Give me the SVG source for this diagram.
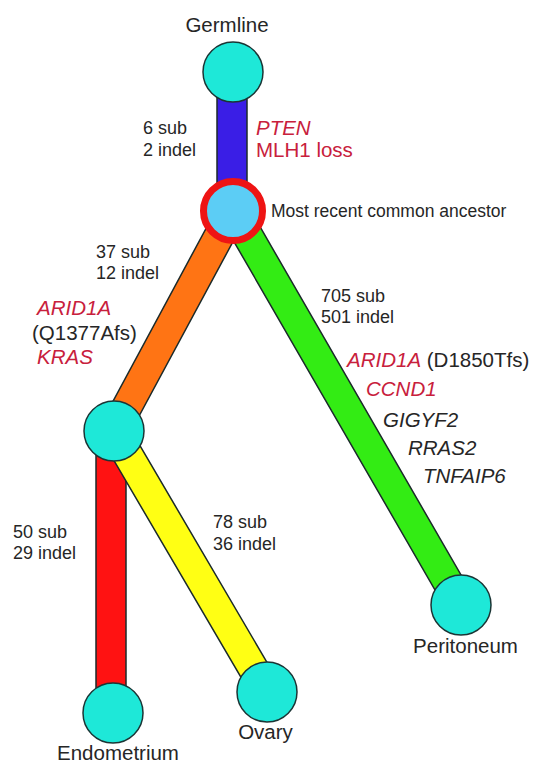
<svg xmlns="http://www.w3.org/2000/svg" width="535" height="765" viewBox="0 0 535 765">
<style>
  .bar { stroke: #1b2a2a; stroke-width: 1.5; stroke-linejoin: miter; }
  .node { fill: #1ee8d8; stroke: #1b3535; stroke-width: 1.5; }
  text { font-family: "Liberation Sans", Arial, sans-serif; fill: #262626; }
  .lbl { font-size: 20.5px; }
  .cnt { font-size: 18px; }
  .gene { font-size: 20.5px; }
  .red { fill: #c8203c; }
  .it { font-style: italic; }
</style>
<rect width="535" height="765" fill="#ffffff"/>
<g id="connectors">
  <rect class="bar" x="96" y="431" width="30" height="282" fill="#ff1212"/>
  <polygon class="bar" points="126.9,423.4 279.9,684.4 254.1,699.6 101.1,438.6" fill="#ffff14"/>
  <polygon class="bar" points="246.2,217.1 127.2,438.1 100.8,423.9 219.8,202.9" fill="#ff7414"/>
  <polygon class="bar" points="246,202.5 474,597.5 448,612.5 220,217.5" fill="#33ec14"/>
  <rect class="bar" x="217" y="72" width="30" height="138" fill="#3a1ee6"/>
</g>
<g id="germline">
  <circle class="node" cx="233" cy="72" r="30"/>
  <text class="lbl" x="227" y="32" text-anchor="middle">Germline</text>
</g>
<g id="mrca">
  <circle cx="233" cy="211" r="29.5" fill="#5ccdf5" stroke="#ee1414" stroke-width="7"/>
  <text x="271" y="217" font-size="17.5">Most recent common ancestor</text>
</g>
<g id="branch">
  <circle class="node" cx="114" cy="431" r="30"/>
</g>
<g id="endometrium">
  <circle class="node" cx="113" cy="713" r="30"/>
  <text class="lbl" x="118" y="760" text-anchor="middle">Endometrium</text>
</g>
<g id="ovary">
  <circle class="node" cx="267" cy="692" r="30"/>
  <text class="lbl" x="265.5" y="739" text-anchor="middle">Ovary</text>
</g>
<g id="peritoneum">
  <circle class="node" cx="461" cy="605" r="30"/>
  <text class="lbl" x="465.5" y="653" text-anchor="middle">Peritoneum</text>
</g>
<g id="annotations">
  <text class="cnt" x="143" y="134">6 sub</text>
  <text class="cnt" x="143" y="156">2 indel</text>
  <text class="gene red it" x="256" y="135">PTEN</text>
  <text class="gene red" x="256" y="157">MLH1 loss</text>

  <text class="cnt" x="96" y="258">37 sub</text>
  <text class="cnt" x="96" y="279">12 indel</text>
  <text class="gene red it" x="37" y="315">ARID1A</text>
  <text class="gene" x="32" y="340">(Q1377Afs)</text>
  <text class="gene red it" x="37" y="364">KRAS</text>

  <text class="cnt" x="321" y="302">705 sub</text>
  <text class="cnt" x="321" y="323">501 indel</text>
  <text class="gene" x="347" y="367"><tspan class="red it">ARID1A</tspan> (D1850Tfs)</text>
  <text class="gene red it" x="366" y="396">CCND1</text>
  <text class="gene it" x="383" y="427">GIGYF2</text>
  <text class="gene it" x="408" y="455">RRAS2</text>
  <text class="gene it" x="423" y="483">TNFAIP6</text>

  <text class="cnt" x="13" y="538">50 sub</text>
  <text class="cnt" x="13" y="559">29 indel</text>
  <text class="cnt" x="213" y="528">78 sub</text>
  <text class="cnt" x="213" y="550">36 indel</text>
</g>
</svg>
